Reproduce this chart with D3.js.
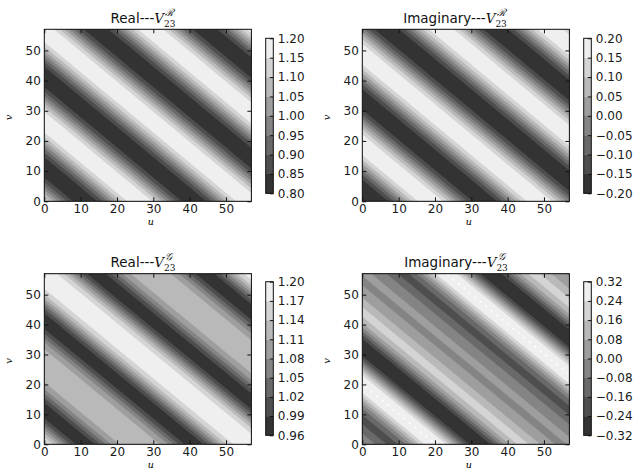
<!DOCTYPE html>
<html><head><meta charset="utf-8">
<script src="https://cdn.jsdelivr.net/npm/d3@7"></script>
<style>body{margin:0;background:#fff}svg{display:block}</style>
</head><body><svg id="c" width="638" height="472"></svg>
<script>
// profile samples along the diagonal s = u + v, starting at sStart, step sStep
const sStart = -0.75, sStep = 1.5;
const uTicks = [0,10,20,30,40,50];
const vTicks = [0,10,20,30,40,50];
const levelsReR = [0.80,0.85,0.90,0.95,1.00,1.05,1.10,1.15,1.20];
const levelsImR = [-0.20,-0.15,-0.10,-0.05,0.00,0.05,0.10,0.15,0.20];
const levelsReG = [0.96,0.99,1.02,1.05,1.08,1.11,1.14,1.17,1.20];
const levelsImG = [-0.32,-0.24,-0.16,-0.08,0.00,0.08,0.16,0.24,0.32];
const profileReR = [
1.162,1.118,1.062,1.000,0.938,0.882,0.838,0.810,0.801,0.810,0.838,0.882,0.938,1.000,1.062,1.118,1.162,1.190,1.199,1.190,
1.162,1.118,1.062,1.000,0.938,0.882,0.838,0.810,0.801,0.810,0.838,0.882,0.938,1.000,1.062,1.118,1.162,1.190,1.199,1.190,
1.162,1.118,1.062,1.000,0.938,0.882,0.838,0.810,0.801,0.810,0.838,0.882,0.938,1.000,1.062,1.118,1.162,1.190,1.199,1.190,
1.162,1.118,1.062,1.000,0.938,0.882,0.838,0.810,0.801,0.810,0.838,0.882,0.938,1.000,1.062,1.118,1.162,1.190,1.199,1.190];
const profileImR = [
-0.118,-0.162,-0.190,-0.199,-0.190,-0.162,-0.118,-0.062,0.000,0.062,0.118,0.162,0.190,0.199,0.190,0.162,0.118,0.062,0.000,-0.062,
-0.118,-0.162,-0.190,-0.199,-0.190,-0.162,-0.118,-0.062,0.000,0.062,0.118,0.162,0.190,0.199,0.190,0.162,0.118,0.062,0.000,-0.062,
-0.118,-0.162,-0.190,-0.199,-0.190,-0.162,-0.118,-0.062,0.000,0.062,0.118,0.162,0.190,0.199,0.190,0.162,0.118,0.062,0.000,-0.062,
-0.118,-0.162,-0.190,-0.199,-0.190,-0.162,-0.118,-0.062,0.000,0.062,0.118,0.162,0.190,0.199,0.190,0.162,0.118,0.062,0.000,-0.062];
const profileReG = [
1.183,1.167,1.143,1.109,1.071,1.031,0.997,0.973,0.965,0.973,0.995,1.025,1.057,1.086,1.106,1.118,1.123,1.125,1.125,1.125,
1.123,1.118,1.106,1.086,1.057,1.025,0.995,0.973,0.965,0.973,0.997,1.031,1.071,1.109,1.143,1.167,1.183,1.192,1.194,1.192,
1.183,1.167,1.143,1.109,1.071,1.031,0.997,0.973,0.965,0.973,0.995,1.025,1.057,1.086,1.106,1.118,1.123,1.125,1.125,1.125,
1.123,1.118,1.106,1.086,1.057,1.025,0.995,0.973,0.965,0.973,0.997,1.031,1.071,1.109,1.143,1.167,1.183,1.192,1.194,1.192];
const profileImG = [
0.0018,-0.0140,-0.0440,-0.0845,-0.1271,-0.1614,-0.1759,-0.1621,-0.1167,-0.0419,0.0528,0.1534,0.2429,0.3045,0.3260,0.3007,0.2306,0.1250,0.0000,-0.1250,
-0.2306,-0.3007,-0.3190,-0.3045,-0.2429,-0.1534,-0.0528,0.0419,0.1167,0.1621,0.1759,0.1614,0.1271,0.0845,0.0440,0.0140,-0.0018,-0.0048,0.0000,0.0048,
0.0018,-0.0140,-0.0440,-0.0845,-0.1271,-0.1614,-0.1759,-0.1621,-0.1167,-0.0419,0.0528,0.1534,0.2429,0.3045,0.3260,0.3007,0.2306,0.1250,0.0000,-0.1250,
-0.2306,-0.3007,-0.3190,-0.3045,-0.2429,-0.1534,-0.0528,0.0419,0.1167,0.1621,0.1759,0.1614,0.1271,0.0845,0.0440,0.0140,-0.0018,-0.0048,0.0000,0.0048];
const grays = ['#333333','#4e4e4e','#696969','#848484','#9e9e9e','#b9b9b9','#d4d4d4','#efefef'];

const panels = [
 {profile:profileReR, levels:levelsReR, title:'Real---', sup:'\u211B', x0:44.3, x1:251.4, y0:29.3, y1:201.3, cbx:265.7, cby0:38.3, cby1:193.3, tcx:143},
 {profile:profileImR, levels:levelsImR, title:'Imaginary---', sup:'\u211B', x0:362.3, x1:569.4, y0:29.3, y1:201.3, cbx:583.7, cby0:38.3, cby1:193.3, tcx:455},
 {profile:profileReG, levels:levelsReG, title:'Real---', sup:'\uD835\uDCA2', x0:44.3, x1:251.4, y0:273.7, y1:444.3, cbx:265.7, cby0:281.7, cby1:435.3, tcx:143},
 {profile:profileImG, levels:levelsImG, title:'Imaginary---', sup:'\uD835\uDCA2', x0:362.3, x1:569.4, y0:273.7, y1:444.3, cbx:583.7, cby0:281.7, cby1:435.3, tcx:456}
];
const svg = d3.select('#c');
const FONT = 'DejaVu Sans, sans-serif';
const SERIF = 'DejaVu Serif, Liberation Serif, serif';

panels.forEach((p, pi) => {
  const g = svg.append('g');
  const x = d3.scaleLinear().domain([0,57]).range([p.x0,p.x1]);
  const y = d3.scaleLinear().domain([0,57]).range([p.y1,p.y0]);
  const n = 40;
  const values = new Array(n*n);
  for (let j=0;j<n;j++) for (let i=0;i<n;i++) values[j*n+i] = p.profile[i+j];
  // filled contours: bins between levels; outside the level range stays unfilled (white)
  const contours = d3.contours().size([n,n]).thresholds(p.levels)(values);
  const fills = grays.concat(['#ffffff']);
  const gridPos = c => sStart/2 + sStep*(c-0.5);
  const proj = d3.geoTransform({point(px,py){ this.stream.point(x(gridPos(px)), y(gridPos(py))); }});
  const path = d3.geoPath(proj);
  const cid = 'clip'+pi;
  svg.append('clipPath').attr('id',cid).append('rect')
    .attr('x',p.x0).attr('y',p.y0).attr('width',p.x1-p.x0).attr('height',p.y1-p.y0);
  const body = g.append('g').attr('clip-path',`url(#${cid})`);
  body.append('rect').attr('x',p.x0).attr('y',p.y0).attr('width',p.x1-p.x0).attr('height',p.y1-p.y0).attr('fill','#ffffff');
  contours.forEach((c,idx)=>{
    const col = fills[idx];
    body.append('path').attr('d',path(c)).attr('fill',col)
      .attr('stroke', idx < grays.length ? col : 'none').attr('stroke-width',0.3);
  });
  g.append('rect').attr('x',p.x0).attr('y',p.y0).attr('width',p.x1-p.x0).attr('height',p.y1-p.y0)
    .attr('fill','none').attr('stroke','#111').attr('stroke-width',1);
  const styleAxis = a => { a.select('.domain').remove(); a.selectAll('line').attr('stroke','#111');
    a.selectAll('text').style('font-family',FONT).style('font-size','12px').attr('fill','#1a1a1a'); };
  g.append('g').attr('transform',`translate(0,${p.y1})`)
    .call(d3.axisBottom(x).tickValues(uTicks).tickSize(-4).tickPadding(3)).call(styleAxis);
  g.append('g').attr('transform',`translate(0,${p.y0})`)
    .call(d3.axisTop(x).tickValues(uTicks).tickSize(-4).tickFormat('')).call(styleAxis);
  g.append('g').attr('transform',`translate(${p.x0},0)`)
    .call(d3.axisLeft(y).tickValues(vTicks).tickSize(-4).tickPadding(3.5)).call(styleAxis);
  g.append('g').attr('transform',`translate(${p.x1},0)`)
    .call(d3.axisRight(y).tickValues(vTicks).tickSize(-4).tickFormat('')).call(styleAxis);
  // axis labels
  g.append('text').attr('x',(p.x0+p.x1)/2+3).attr('y',p.y1+23.5).attr('text-anchor','middle')
    .style('font-family',SERIF).style('font-style','italic').style('font-size','9.5px').text('u');
  g.append('text').attr('transform',`translate(${p.x0-32},${(p.y0+p.y1)/2+2}) rotate(-90)`).attr('text-anchor','middle')
    .style('font-family',SERIF).style('font-style','italic').style('font-size','10px').text('v');
  // title
  const t = g.append('text').attr('x',p.tcx).attr('y',p.y0-6.5).attr('text-anchor','middle')
    .style('font-family',FONT).style('font-size','13.5px').attr('fill','#111');
  t.append('tspan').text(p.title);
  t.append('tspan').style('font-family',SERIF).style('font-style','italic').text('V');
  t.append('tspan').attr('dy',4).style('font-family',SERIF).style('font-size','9px').text('23');
  t.append('tspan').attr('dx',-10).attr('dy',-11).style('font-family',SERIF).style('font-style','italic').style('font-size','10px').text(p.sup);
  // colorbar
  const lv = p.levels;
  const cy = d3.scaleLinear().domain([lv[0], lv[lv.length-1]]).range([p.cby1, p.cby0]);
  const cbw = 7.6;
  const cb = g.append('g');
  for (let k=0;k<lv.length-1;k++) {
    cb.append('rect').attr('x',p.cbx).attr('y',cy(lv[k+1])).attr('width',cbw)
      .attr('height',cy(lv[k])-cy(lv[k+1])+0.3).attr('fill',grays[k]);
  }
  cb.append('rect').attr('x',p.cbx).attr('y',p.cby0).attr('width',cbw).attr('height',p.cby1-p.cby0)
    .attr('fill','none').attr('stroke','#111').attr('stroke-width',1);
  g.append('g').attr('transform',`translate(${p.cbx+cbw},0)`)
    .call(d3.axisRight(cy).tickValues(lv).tickSize(-3.5).tickPadding(4.5).tickFormat(d3.format('.2f'))).call(styleAxis);
});
</script></body></html>
